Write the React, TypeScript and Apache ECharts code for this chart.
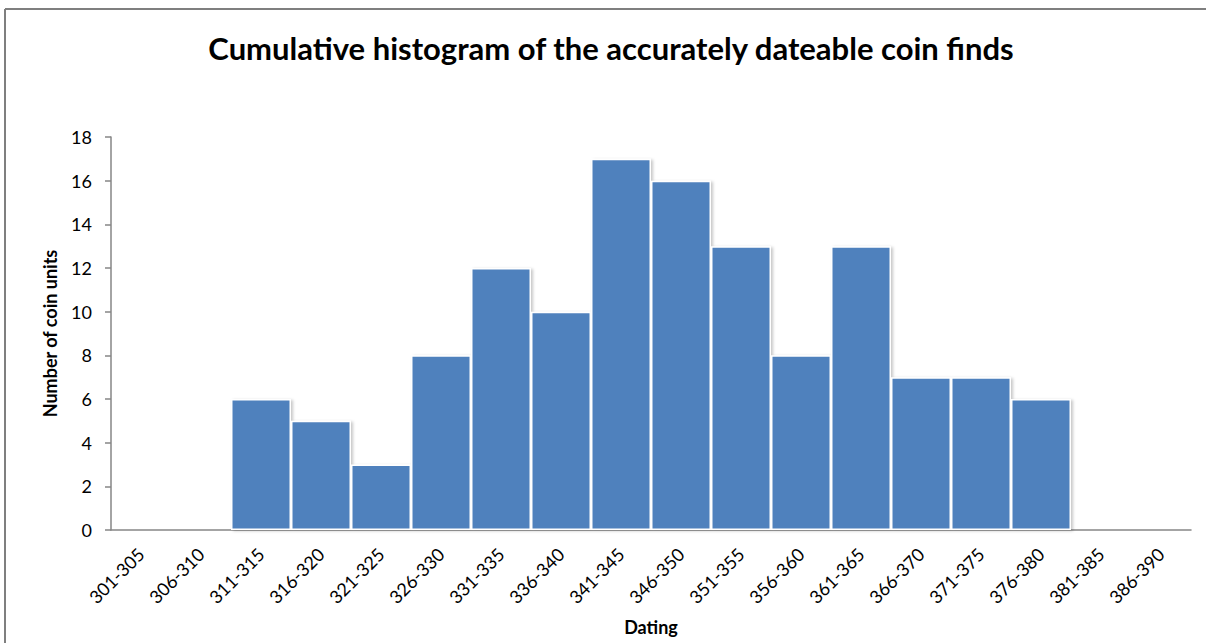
import React, { useEffect, useRef } from "react";
import * as echarts from "echarts";

const categories = [
  "301-305", "306-310", "311-315", "316-320", "321-325", "326-330",
  "331-335", "336-340", "341-345", "346-350", "351-355", "356-360",
  "361-365", "366-370", "371-375", "376-380", "381-385", "386-390",
];
const counts = [0, 0, 6, 5, 3, 8, 12, 10, 17, 16, 13, 8, 13, 7, 7, 6, 0, 0];
const yTicks = { min: 0, max: 18, interval: 2 };

const FONT = "Lato, 'Open Sans', sans-serif";

export default function App() {
  const ref = useRef<HTMLDivElement>(null);
  useEffect(() => {
    if (!ref.current) return;
    const chart = echarts.init(ref.current, null, { renderer: "svg" });
    chart.setOption({
      animation: false,
      backgroundColor: "#ffffff",
      title: {
        text: "Cumulative histogram of the accurately dateable coin finds",
        left: 606,
        top: 27,
        textAlign: "center",
        textStyle: { fontFamily: FONT, fontWeight: "bold", fontSize: 31, color: "#000" },
      },
      graphic: [
        { type: "line", shape: { x1: 5, y1: 9, x2: 1206, y2: 9 }, style: { stroke: "#7f7f7f", lineWidth: 2 } },
        { type: "line", shape: { x1: 5, y1: 9, x2: 5, y2: 643 }, style: { stroke: "#7f7f7f", lineWidth: 2 } },
      ],
      grid: { left: 111, right: 15, top: 137, bottom: 113 },
      xAxis: {
        type: "category",
        data: categories,
        name: "Dating",
        nameLocation: "middle",
        nameGap: 88,
        nameTextStyle: { fontFamily: FONT, fontWeight: "bold", fontSize: 18, color: "#000" },
        axisLine: { lineStyle: { color: "#868686", width: 1.5 } },
        axisTick: { show: false },
        axisLabel: {
          rotate: 45,
          interval: 0,
          margin: 21,
          fontFamily: FONT,
          fontSize: 18,
          color: "#000",
        },
      },
      yAxis: {
        type: "value",
        min: yTicks.min,
        max: yTicks.max,
        interval: yTicks.interval,
        name: "Number of coin units",
        nameLocation: "middle",
        nameGap: 52,
        nameTextStyle: { fontFamily: FONT, fontWeight: "bold", fontSize: 18, color: "#000" },
        axisLine: { show: true, lineStyle: { color: "#868686", width: 1.5 } },
        axisTick: { show: true, length: 6, lineStyle: { color: "#868686", width: 1.5 } },
        splitLine: { show: false },
        axisLabel: { fontFamily: FONT, fontSize: 18, color: "#000", margin: 19 },
      },
      series: [
        {
          type: "bar",
          data: counts,
          barCategoryGap: "0%",
          itemStyle: {
            color: "#4f81bd",
            borderColor: "#ffffff",
            borderWidth: 1.5,
            shadowColor: "rgba(0,0,0,0.22)",
            shadowBlur: 3,
            shadowOffsetX: 2,
            shadowOffsetY: 1,
          },
        },
      ],
    });
    return () => chart.dispose();
  }, []);
  return (
    <div
      ref={ref}
      style={{ position: "fixed", left: 0, top: 0, width: 1206, height: 643 }}
    />
  );
}
